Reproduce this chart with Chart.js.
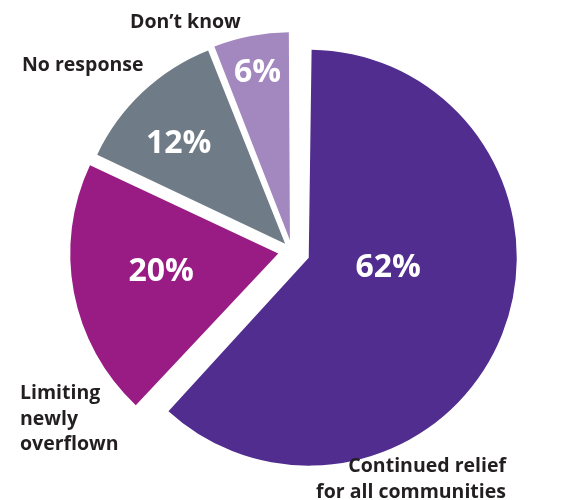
<!DOCTYPE html>
<html>
<head>
<meta charset="utf-8">
<script src="https://cdn.jsdelivr.net/npm/chart.js@4.4.0/dist/chart.umd.min.js"></script>
<style>
    html, body { margin: 0; padding: 0; background: #ffffff; }
    #wrap { width: 585px; height: 500px; position: relative; }
</style>
</head>
<body>
<div id="wrap"><canvas id="pieChart"></canvas></div>
<script>
// Data
const categories = [
    ['Continued relief', 'for all communities'],
    ['Limiting', 'newly', 'overflown'],
    ['No response'],
    ['Don\u2019t know']
];
const shares = [62, 20, 12, 6];
const sliceColors = ['#502d8e', '#991c84', '#6f7c87', '#a387bf'];
// how far each slice is pulled out (px)
const explode = [18, 14, 10, 11];

// label placement: fraction of radius + angle tweak (deg) from slice middle
const pctPlace = [
    { r: 0.42, da: -16 },
    { r: 0.57, da: 3 },
    { r: 0.72, da: -3 },
    { r: 0.86, da: 0 }
];
// outside category labels: anchor x, first baseline y, alignment
const catPlace = [
    { x: 506, y: 472, align: 'right' },
    { x: 20, y: 399, align: 'left' },
    { x: 22, y: 71, align: 'left' },
    { x: 130, y: 28, align: 'left' }
];

const FONT = "'Open Sans', 'Noto Sans', sans-serif";

/* Chart.js grows the radius of pulled-out slices; undo that so all share one radius */
const keepRadius = {
    id: 'keepRadius',
    afterDatasetUpdate(chart, args) {
        args.meta.data.forEach(function (arc) {
            const o = (arc.options.offset || 0) / 4;
            const fix = 1 - Math.sin(Math.min(Math.PI, arc.circumference || 0));
            arc.outerRadius = arc.outerRadius - o * fix;
        });
    }
};

const sliceLabels = {
    id: 'sliceLabels',
    afterDatasetsDraw(chart) {
        const ctx = chart.ctx;
        const meta = chart.getDatasetMeta(0);
        ctx.save();

        // percentages inside the slices
        ctx.fillStyle = '#ffffff';
        ctx.font = 'bold 32px ' + FONT;
        ctx.textAlign = 'center';
        ctx.textBaseline = 'alphabetic';
        meta.data.forEach(function (arc, i) {
            const mid = (arc.startAngle + arc.endAngle) / 2;
            const o = explode[i];
            const cx = arc.x + Math.cos(mid) * o;
            const cy = arc.y + Math.sin(mid) * o;
            const a = mid + pctPlace[i].da * Math.PI / 180;
            const r = arc.outerRadius * pctPlace[i].r;
            ctx.fillText(shares[i] + '%', cx + Math.cos(a) * r, cy + Math.sin(a) * r + 11.5);
        });

        // category names outside
        ctx.fillStyle = '#231f20';
        ctx.font = 'bold 19.5px ' + FONT;
        categories.forEach(function (lines, i) {
            ctx.textAlign = catPlace[i].align;
            lines.forEach(function (line, k) {
                ctx.fillText(line, catPlace[i].x, catPlace[i].y + k * 25.5);
            });
        });
        ctx.restore();
    }
};

new Chart(document.getElementById('pieChart'), {
    type: 'pie',
    data: {
        labels: categories.map(l => l.join(' ')),
        datasets: [{
            data: shares,
            backgroundColor: sliceColors,
            borderWidth: 0,
            offset: explode.map(v => v * 4)
        }]
    },
    options: {
        responsive: true,
        maintainAspectRatio: false,
        animation: false,
        radius: 208,
        layout: { padding: { left: 0, right: 1, top: 2, bottom: 0 } },
        plugins: {
            legend: { display: false },
            tooltip: { enabled: false }
        }
    },
    plugins: [keepRadius, sliceLabels]
});
</script>
</body>
</html>
